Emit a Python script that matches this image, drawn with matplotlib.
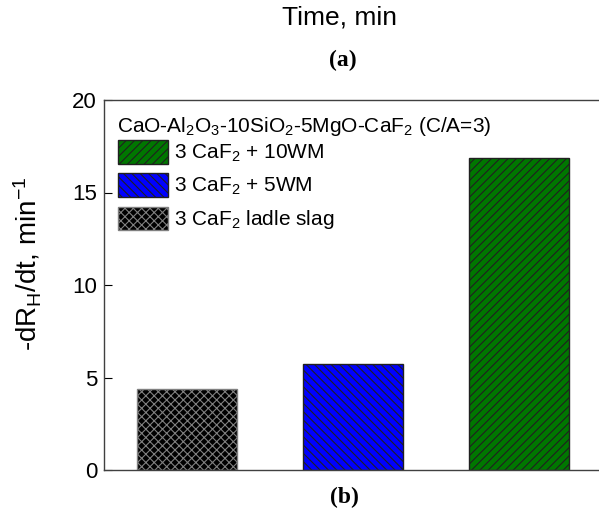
import matplotlib
matplotlib.use("Agg")
import matplotlib.pyplot as plt
from matplotlib.patches import Patch

plt.rcParams["font.family"] = ["Liberation Sans", "DejaVu Sans"]
plt.rcParams["mathtext.fontset"] = "custom"
plt.rcParams["mathtext.rm"] = "Liberation Sans"
plt.rcParams["mathtext.it"] = "Liberation Sans:italic"
plt.rcParams["hatch.linewidth"] = 0.8

# bar values, drawn left to right
labels = ["3 CaF$_2$ ladle slag", "3 CaF$_2$ + 5WM", "3 CaF$_2$ + 10WM"]
rates = [4.38, 5.72, 16.87]
colors = ["black", "#0000ff", "#007700"]
edges = ["#808080", "#202020", "#202020"]
hatches = ["xxxx", "\\\\\\\\", "////"]
yticks = [0, 5, 10, 15, 20]

fig = plt.figure(figsize=(5.99, 5.12), dpi=100)
ax = fig.add_axes([104 / 599, 1 - 470 / 512, 1 - 104 / 599, 370 / 512])

xs = [1, 2, 3]
for x, v, c, e, h in zip(xs, rates, colors, edges, hatches):
    ax.bar(x, v, width=0.6, color=c, edgecolor=e, hatch=h, linewidth=1.0, zorder=2)

ax.set_xlim(0.5, 0.5 + (599 - 104) / 166)
ax.set_ylim(0, 20)
ax.set_yticks(yticks)
ax.set_xticks([])
ax.tick_params(axis="y", direction="in", length=6, labelsize=16, pad=5)
ax.spines["right"].set_visible(False)
for s in ["left", "top", "bottom"]:
    ax.spines[s].set_color("#404040")
    ax.spines[s].set_linewidth(1.0)

fig.text(28 / 599, 1 - 264 / 512, "-dR$_\\mathrm{H}$/dt, min$^{-1}$", fontsize=20,
         rotation=90, ha="center", va="center")

# legend heading drawn on its own so the row spacing can be set freely
fig.text(117 / 599, 1 - 127 / 512, "CaO-Al$_2$O$_3$-10SiO$_2$-5MgO-CaF$_2$ (C/A=3)",
         fontsize=15, ha="left", va="center")

# legend order: top entry is the tallest bar
handles = [Patch(facecolor=colors[i], edgecolor=edges[i], hatch=hatches[i], linewidth=1.0)
           for i in (2, 1, 0)]
leg = ax.legend(handles, [labels[i] for i in (2, 1, 0)],
                loc="upper left", bbox_to_anchor=(10 / 495, (470 - 136) / 370),
                frameon=False, fontsize=15,
                handlelength=2.4, handleheight=1.35, labelspacing=0.45,
                handletextpad=0.3, borderaxespad=0.0, borderpad=0.2)

fig.text(340 / 599, 1 - 17 / 512, "Time, min", ha="center", va="center", fontsize=19)
fig.text(343 / 599, 1 - 60 / 512, "(a)", ha="center", va="center", fontsize=17,
         family="Liberation Serif", weight="bold")
fig.text(344 / 599, 1 - 497 / 512, "(b)", ha="center", va="center", fontsize=17,
         family="Liberation Serif", weight="bold")

fig.savefig("out.png", dpi=100)
